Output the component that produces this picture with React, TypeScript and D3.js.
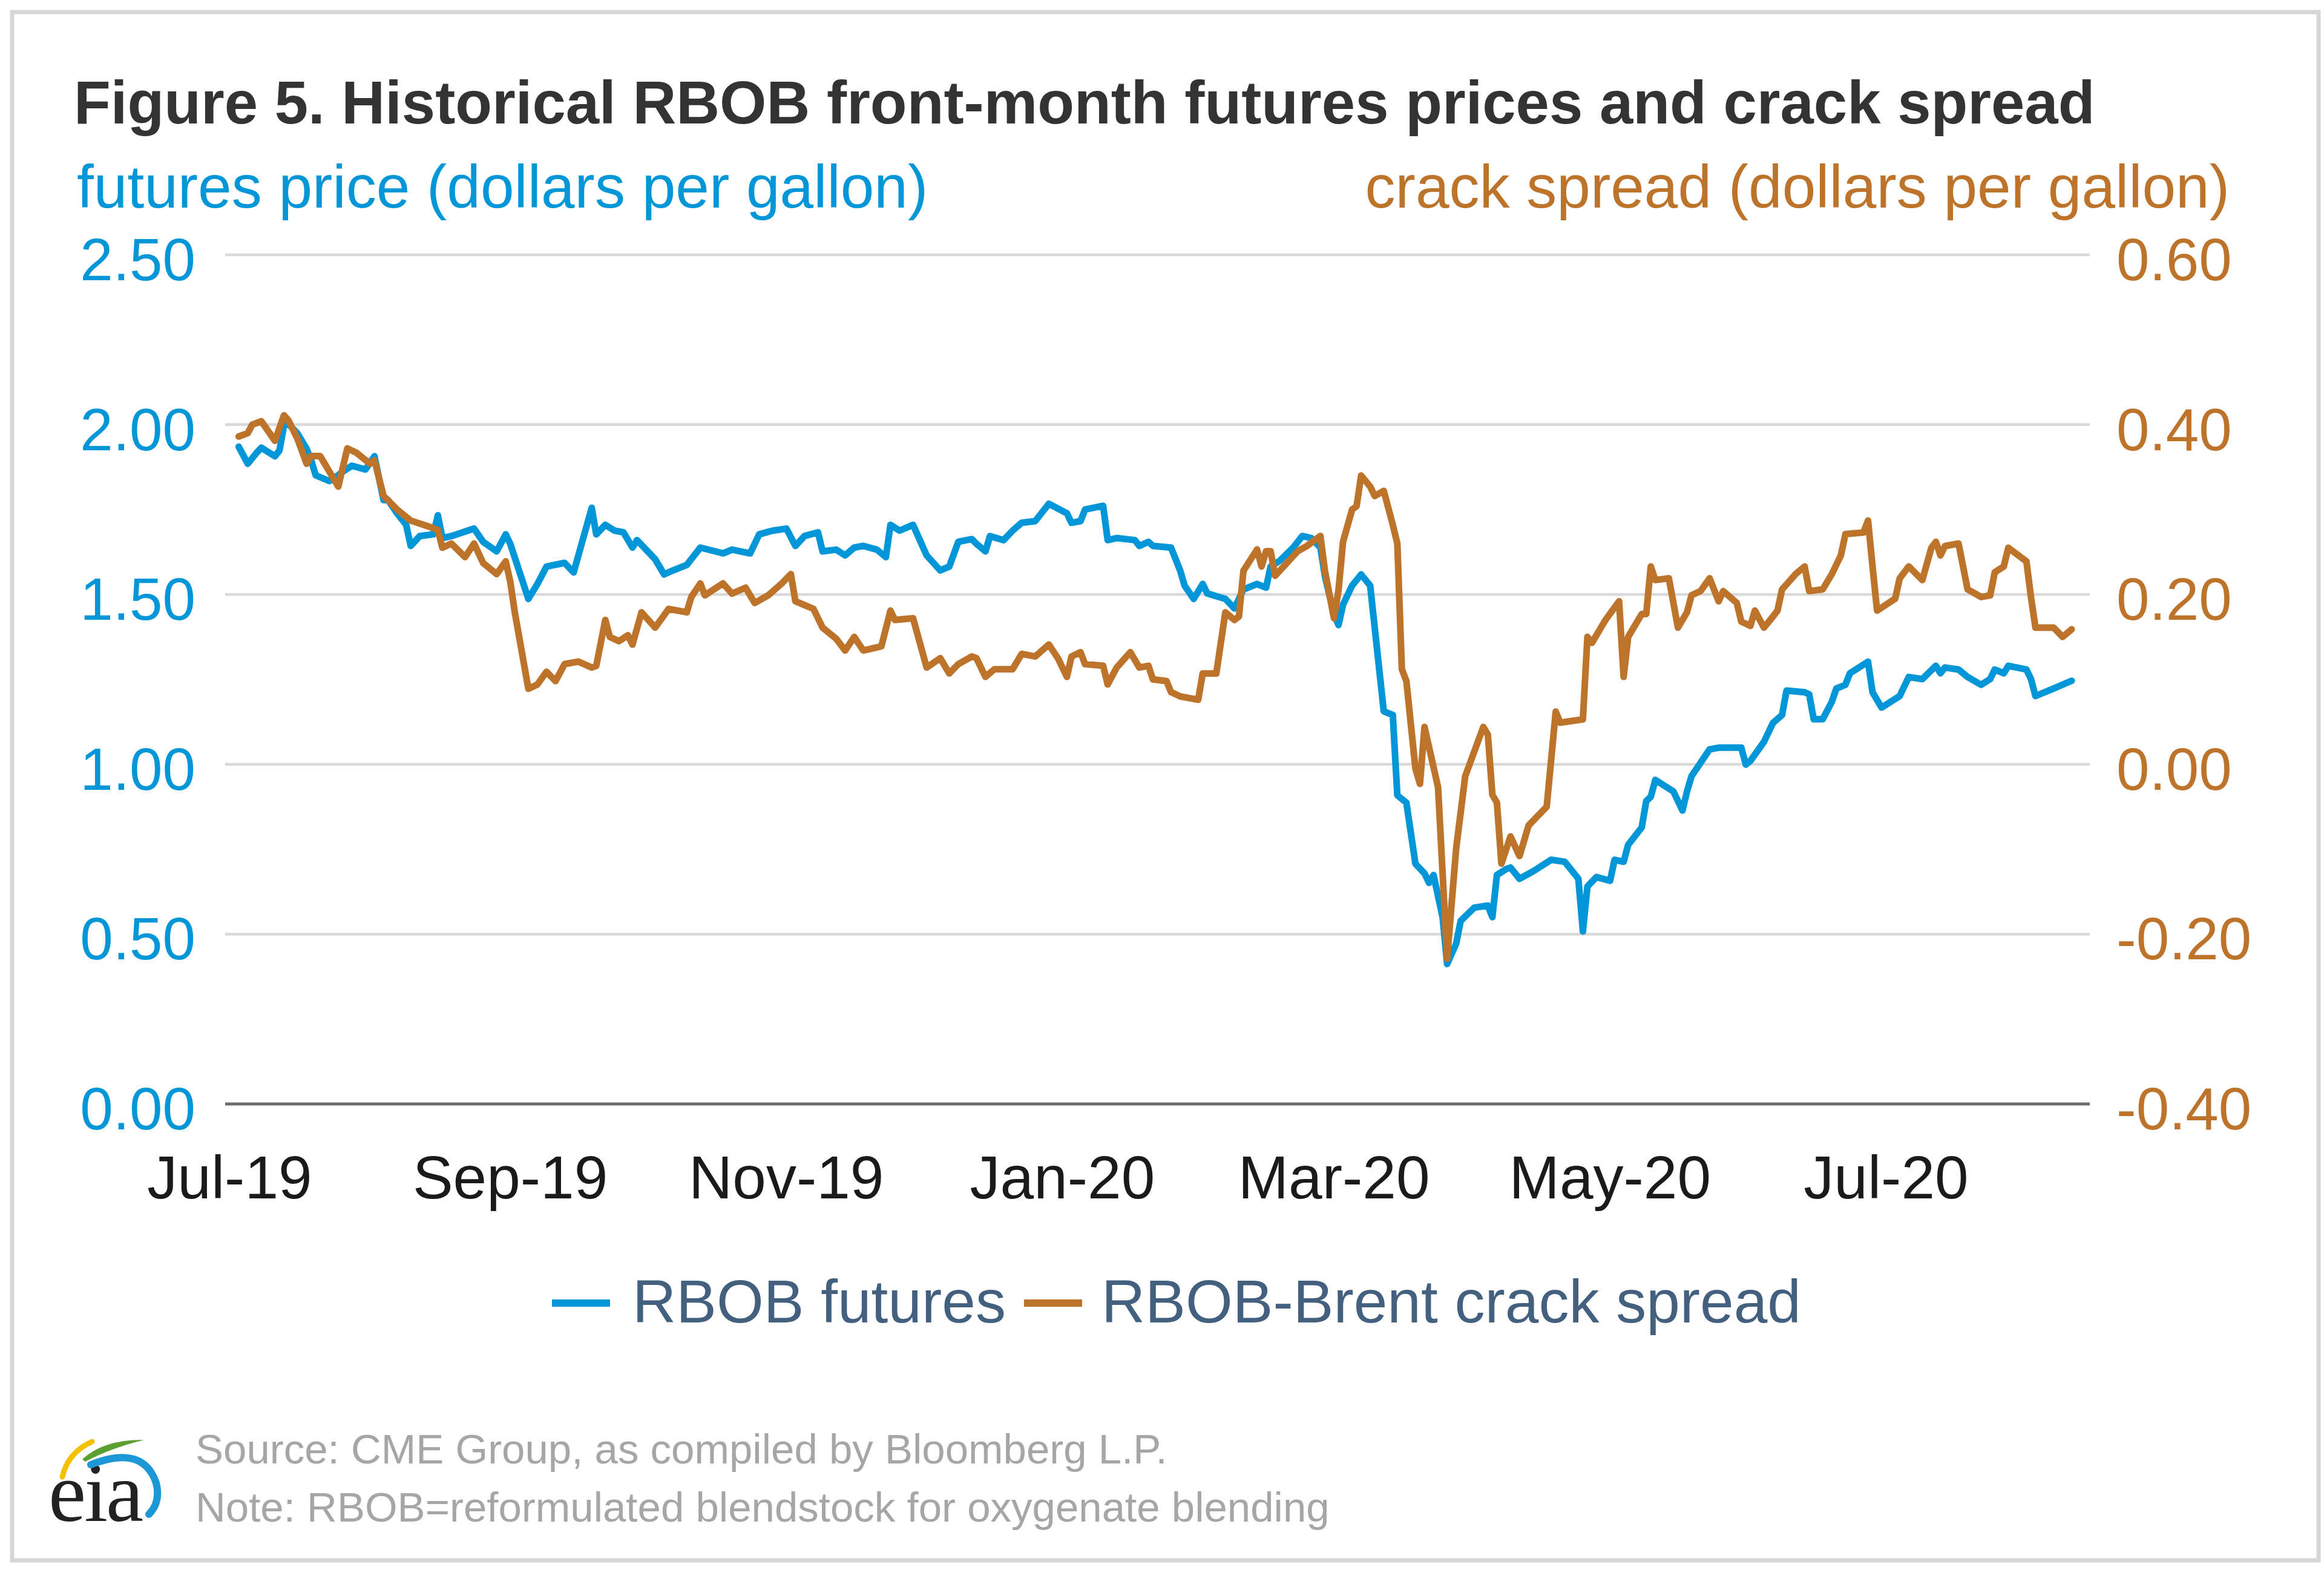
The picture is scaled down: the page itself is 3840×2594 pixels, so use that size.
import React from "react";
import * as d3 from "d3";

const W = 3840;
const H = 2594;

// RBOB front-month futures price, dollars per gallon (left axis)
const rbobFutures: [string, number][] = [
  ["2019-07-03", 1.935], ["2019-07-05", 1.885], ["2019-07-07", 1.918], ["2019-07-08", 1.932],
  ["2019-07-11", 1.907], ["2019-07-12", 1.924], ["2019-07-13", 1.997], ["2019-07-14", 2.002],
  ["2019-07-16", 1.974], ["2019-07-18", 1.929], ["2019-07-19", 1.896], ["2019-07-20", 1.851],
  ["2019-07-23", 1.834], ["2019-07-25", 1.851], ["2019-07-26", 1.862], ["2019-07-28", 1.879],
  ["2019-07-31", 1.868], ["2019-08-02", 1.907], ["2019-08-04", 1.778], ["2019-08-05", 1.778],
  ["2019-08-07", 1.739], ["2019-08-09", 1.705], ["2019-08-10", 1.643], ["2019-08-12", 1.672],
  ["2019-08-15", 1.677], ["2019-08-16", 1.733], ["2019-08-17", 1.666], ["2019-08-19", 1.672],
  ["2019-08-24", 1.694], ["2019-08-26", 1.655], ["2019-08-29", 1.627], ["2019-08-31", 1.677],
  ["2019-09-01", 1.649], ["2019-09-05", 1.487], ["2019-09-07", 1.531], ["2019-09-09", 1.582],
  ["2019-09-13", 1.593], ["2019-09-15", 1.565], ["2019-09-19", 1.755], ["2019-09-20", 1.677],
  ["2019-09-22", 1.705], ["2019-09-24", 1.688], ["2019-09-26", 1.683], ["2019-09-28", 1.638],
  ["2019-09-29", 1.66], ["2019-10-03", 1.604], ["2019-10-05", 1.559], ["2019-10-07", 1.571],
  ["2019-10-10", 1.587], ["2019-10-13", 1.638], ["2019-10-18", 1.621], ["2019-10-20", 1.632],
  ["2019-10-24", 1.621], ["2019-10-26", 1.677], ["2019-10-29", 1.688], ["2019-11-01", 1.694],
  ["2019-11-03", 1.643], ["2019-11-05", 1.672], ["2019-11-08", 1.683], ["2019-11-09", 1.627],
  ["2019-11-12", 1.632], ["2019-11-14", 1.615], ["2019-11-16", 1.638], ["2019-11-18", 1.643],
  ["2019-11-21", 1.632], ["2019-11-23", 1.61], ["2019-11-24", 1.705], ["2019-11-26", 1.688],
  ["2019-11-29", 1.705], ["2019-12-02", 1.615], ["2019-12-05", 1.571], ["2019-12-07", 1.582],
  ["2019-12-09", 1.655], ["2019-12-12", 1.663], ["2019-12-13", 1.649], ["2019-12-15", 1.627],
  ["2019-12-16", 1.672], ["2019-12-19", 1.66], ["2019-12-21", 1.688], ["2019-12-23", 1.711],
  ["2019-12-26", 1.716], ["2019-12-29", 1.767], ["2020-01-02", 1.739], ["2020-01-03", 1.711],
  ["2020-01-05", 1.716], ["2020-01-06", 1.75], ["2020-01-10", 1.761], ["2020-01-11", 1.66],
  ["2020-01-13", 1.666], ["2020-01-17", 1.66], ["2020-01-18", 1.643], ["2020-01-20", 1.655],
  ["2020-01-21", 1.643], ["2020-01-25", 1.638], ["2020-01-27", 1.571], ["2020-01-28", 1.526],
  ["2020-01-30", 1.487], ["2020-02-01", 1.531], ["2020-02-02", 1.503], ["2020-02-06", 1.487],
  ["2020-02-08", 1.459], ["2020-02-10", 1.515], ["2020-02-13", 1.531], ["2020-02-15", 1.52],
  ["2020-02-16", 1.582], ["2020-02-18", 1.599], ["2020-02-21", 1.638], ["2020-02-23", 1.672],
  ["2020-02-25", 1.666], ["2020-02-27", 1.638], ["2020-02-28", 1.554], ["2020-03-01", 1.442],
  ["2020-03-02", 1.41], ["2020-03-03", 1.47], ["2020-03-05", 1.526], ["2020-03-07", 1.559],
  ["2020-03-09", 1.526], ["2020-03-12", 1.156], ["2020-03-14", 1.145], ["2020-03-15", 0.909],
  ["2020-03-17", 0.887], ["2020-03-19", 0.707], ["2020-03-21", 0.679], ["2020-03-22", 0.651],
  ["2020-03-23", 0.674], ["2020-03-25", 0.55], ["2020-03-26", 0.412], ["2020-03-28", 0.472],
  ["2020-03-29", 0.539], ["2020-04-01", 0.578], ["2020-04-04", 0.584], ["2020-04-05", 0.55],
  ["2020-04-06", 0.674], ["2020-04-08", 0.691], ["2020-04-09", 0.696], ["2020-04-11", 0.663],
  ["2020-04-14", 0.685], ["2020-04-18", 0.719], ["2020-04-21", 0.713], ["2020-04-24", 0.663],
  ["2020-04-25", 0.508], ["2020-04-26", 0.64], ["2020-04-28", 0.668], ["2020-05-01", 0.657],
  ["2020-05-02", 0.719], ["2020-05-04", 0.713], ["2020-05-05", 0.763], ["2020-05-08", 0.814],
  ["2020-05-09", 0.892], ["2020-05-10", 0.904], ["2020-05-11", 0.954], ["2020-05-15", 0.92],
  ["2020-05-17", 0.864], ["2020-05-18", 0.92], ["2020-05-19", 0.965], ["2020-05-23", 1.044],
  ["2020-05-25", 1.049], ["2020-05-30", 1.049], ["2020-05-31", 0.999], ["2020-06-01", 1.01],
  ["2020-06-04", 1.066], ["2020-06-06", 1.122], ["2020-06-08", 1.145], ["2020-06-09", 1.217],
  ["2020-06-13", 1.212], ["2020-06-14", 1.206], ["2020-06-15", 1.133], ["2020-06-17", 1.133],
  ["2020-06-19", 1.184], ["2020-06-20", 1.223], ["2020-06-22", 1.234], ["2020-06-23", 1.268],
  ["2020-06-27", 1.302], ["2020-06-28", 1.212], ["2020-06-30", 1.167], ["2020-07-04", 1.201],
  ["2020-07-06", 1.257], ["2020-07-09", 1.251], ["2020-07-12", 1.29], ["2020-07-13", 1.268],
  ["2020-07-14", 1.285], ["2020-07-17", 1.279], ["2020-07-19", 1.257], ["2020-07-22", 1.234],
  ["2020-07-24", 1.251], ["2020-07-25", 1.279], ["2020-07-27", 1.268], ["2020-07-28", 1.29],
  ["2020-08-01", 1.279], ["2020-08-02", 1.251], ["2020-08-03", 1.201], ["2020-08-07", 1.223],
  ["2020-08-11", 1.246],
];

// RBOB-Brent crack spread, dollars per gallon (right axis)
const crackSpread: [string, number][] = [
  ["2019-07-03", 0.386], ["2019-07-05", 0.39], ["2019-07-06", 0.4], ["2019-07-08", 0.404],
  ["2019-07-11", 0.381], ["2019-07-13", 0.411], ["2019-07-14", 0.405], ["2019-07-16", 0.383],
  ["2019-07-18", 0.354], ["2019-07-19", 0.363], ["2019-07-21", 0.363], ["2019-07-23", 0.345],
  ["2019-07-25", 0.327], ["2019-07-27", 0.372], ["2019-07-29", 0.367], ["2019-08-01", 0.354],
  ["2019-08-02", 0.358], ["2019-08-04", 0.316], ["2019-08-07", 0.3], ["2019-08-10", 0.287],
  ["2019-08-14", 0.28], ["2019-08-16", 0.276], ["2019-08-17", 0.255], ["2019-08-19", 0.26],
  ["2019-08-22", 0.244], ["2019-08-24", 0.26], ["2019-08-26", 0.237], ["2019-08-29", 0.224],
  ["2019-08-31", 0.239], ["2019-09-01", 0.215], ["2019-09-02", 0.179], ["2019-09-05", 0.089],
  ["2019-09-07", 0.094], ["2019-09-09", 0.109], ["2019-09-11", 0.098], ["2019-09-13", 0.118],
  ["2019-09-16", 0.121], ["2019-09-19", 0.114], ["2019-09-20", 0.116], ["2019-09-22", 0.17],
  ["2019-09-23", 0.15], ["2019-09-25", 0.145], ["2019-09-27", 0.152], ["2019-09-28", 0.141],
  ["2019-09-30", 0.179], ["2019-10-03", 0.161], ["2019-10-06", 0.183], ["2019-10-10", 0.179],
  ["2019-10-11", 0.197], ["2019-10-13", 0.213], ["2019-10-14", 0.199], ["2019-10-18", 0.213],
  ["2019-10-20", 0.201], ["2019-10-23", 0.208], ["2019-10-25", 0.19], ["2019-10-28", 0.199],
  ["2019-10-31", 0.213], ["2019-11-02", 0.224], ["2019-11-03", 0.192], ["2019-11-07", 0.183],
  ["2019-11-09", 0.161], ["2019-11-12", 0.148], ["2019-11-14", 0.134], ["2019-11-16", 0.15],
  ["2019-11-18", 0.134], ["2019-11-22", 0.139], ["2019-11-24", 0.181], ["2019-11-25", 0.17],
  ["2019-11-29", 0.172], ["2019-12-02", 0.114], ["2019-12-05", 0.125], ["2019-12-07", 0.107],
  ["2019-12-09", 0.118], ["2019-12-12", 0.127], ["2019-12-13", 0.125], ["2019-12-15", 0.103],
  ["2019-12-17", 0.112], ["2019-12-21", 0.112], ["2019-12-23", 0.13], ["2019-12-26", 0.127],
  ["2019-12-29", 0.141], ["2019-12-31", 0.125], ["2020-01-02", 0.103], ["2020-01-03", 0.127],
  ["2020-01-05", 0.132], ["2020-01-06", 0.118], ["2020-01-10", 0.116], ["2020-01-11", 0.094],
  ["2020-01-13", 0.114], ["2020-01-16", 0.132], ["2020-01-18", 0.114], ["2020-01-20", 0.116],
  ["2020-01-21", 0.1], ["2020-01-24", 0.098], ["2020-01-25", 0.085], ["2020-01-27", 0.08],
  ["2020-01-31", 0.076], ["2020-02-01", 0.107], ["2020-02-04", 0.107], ["2020-02-06", 0.179],
  ["2020-02-08", 0.17], ["2020-02-09", 0.174], ["2020-02-10", 0.228], ["2020-02-13", 0.253],
  ["2020-02-14", 0.233], ["2020-02-15", 0.251], ["2020-02-16", 0.251], ["2020-02-17", 0.222],
  ["2020-02-22", 0.251], ["2020-02-24", 0.257], ["2020-02-27", 0.269], ["2020-02-28", 0.228],
  ["2020-03-01", 0.172], ["2020-03-02", 0.205], ["2020-03-03", 0.262], ["2020-03-05", 0.3],
  ["2020-03-06", 0.304], ["2020-03-07", 0.34], ["2020-03-09", 0.327], ["2020-03-10", 0.316],
  ["2020-03-12", 0.322], ["2020-03-14", 0.282], ["2020-03-15", 0.26], ["2020-03-16", 0.112],
  ["2020-03-17", 0.098], ["2020-03-19", -0.005], ["2020-03-20", -0.023], ["2020-03-21", 0.044],
  ["2020-03-24", -0.027], ["2020-03-26", -0.229], ["2020-03-28", -0.099], ["2020-03-30", -0.014],
  ["2020-04-03", 0.044], ["2020-04-04", 0.035], ["2020-04-05", -0.036], ["2020-04-06", -0.045],
  ["2020-04-07", -0.117], ["2020-04-09", -0.085], ["2020-04-11", -0.108], ["2020-04-13", -0.072],
  ["2020-04-17", -0.05], ["2020-04-19", 0.062], ["2020-04-20", 0.049], ["2020-04-25", 0.053],
  ["2020-04-26", 0.15], ["2020-04-27", 0.143], ["2020-04-30", 0.17], ["2020-05-03", 0.192],
  ["2020-05-04", 0.103], ["2020-05-05", 0.15], ["2020-05-08", 0.177], ["2020-05-09", 0.177],
  ["2020-05-10", 0.233], ["2020-05-11", 0.217], ["2020-05-14", 0.219], ["2020-05-16", 0.161],
  ["2020-05-18", 0.179], ["2020-05-19", 0.199], ["2020-05-21", 0.204], ["2020-05-23", 0.219],
  ["2020-05-25", 0.192], ["2020-05-26", 0.204], ["2020-05-29", 0.19], ["2020-05-30", 0.168],
  ["2020-06-01", 0.163], ["2020-06-02", 0.181], ["2020-06-04", 0.161], ["2020-06-06", 0.174],
  ["2020-06-07", 0.181], ["2020-06-08", 0.206], ["2020-06-11", 0.224], ["2020-06-13", 0.233],
  ["2020-06-14", 0.204], ["2020-06-17", 0.206], ["2020-06-19", 0.224], ["2020-06-21", 0.246],
  ["2020-06-22", 0.271], ["2020-06-26", 0.273], ["2020-06-27", 0.287], ["2020-06-28", 0.233],
  ["2020-06-29", 0.181], ["2020-07-03", 0.195], ["2020-07-04", 0.219], ["2020-07-06", 0.233],
  ["2020-07-09", 0.217], ["2020-07-11", 0.255], ["2020-07-12", 0.262], ["2020-07-13", 0.246],
  ["2020-07-14", 0.257], ["2020-07-17", 0.26], ["2020-07-18", 0.233], ["2020-07-19", 0.206],
  ["2020-07-22", 0.197], ["2020-07-24", 0.199], ["2020-07-25", 0.226], ["2020-07-27", 0.233],
  ["2020-07-28", 0.255], ["2020-08-01", 0.239], ["2020-08-02", 0.197], ["2020-08-03", 0.161],
  ["2020-08-07", 0.161], ["2020-08-09", 0.15], ["2020-08-11", 0.159],
];

const xTickDates = ["2019-07-01", "2019-09-01", "2019-11-01", "2020-01-01", "2020-03-01", "2020-05-01", "2020-07-01"];
const xDomainDates = ["2019-06-30", "2020-08-15"];
const leftTicks = [0, 0.5, 1, 1.5, 2, 2.5];
const rightTicks = [-0.4, -0.2, 0, 0.2, 0.4, 0.6];

const titleText = "Figure 5. Historical RBOB front-month futures prices and crack spread";
const leftAxisTitle = "futures price (dollars per gallon)";
const rightAxisTitle = "crack spread (dollars per gallon)";
const legendLabels = ["RBOB futures", "RBOB-Brent crack spread"];
const sourceText = "Source: CME Group, as compiled by Bloomberg L.P.";
const noteText = "Note: RBOB=reformulated blendstock for oxygenate blending";

const BLUE = "#0096d7";
const ORANGE = "#bd732a";
const SANS = "'Liberation Sans', Arial, Helvetica, sans-serif";

export default function App() {
  const parse = d3.utcParse("%Y-%m-%d");
  const plotLeft = 372;
  const plotRight = 3453;
  const plotTop = 421;
  const plotBottom = 1824;

  const x = d3.scaleUtc().domain(xDomainDates.map((d) => parse(d) as Date)).range([plotLeft, plotRight]);
  const yL = d3.scaleLinear().domain([0, 2.5]).range([plotBottom, plotTop]);
  const yR = d3.scaleLinear().domain([-0.4, 0.6]).range([plotBottom, plotTop]);
  const fmtX = d3.utcFormat("%b-%y");
  const fmtY = (v: number) => d3.format(".2f")(v).replace("\u2212", "-");

  const lineL = d3
    .line<[string, number]>()
    .x((d) => x(parse(d[0]) as Date))
    .y((d) => yL(d[1]));
  const lineR = d3
    .line<[string, number]>()
    .x((d) => x(parse(d[0]) as Date))
    .y((d) => yR(d[1]));

  const legendItems = [
    { label: legendLabels[0], color: BLUE, sx: 912, tx: 1045 },
    { label: legendLabels[1], color: ORANGE, sx: 1692, tx: 1820 },
  ];

  return (
    <svg
      width={W}
      height={H}
      viewBox={`0 0 ${W} ${H}`}
      style={{ position: "absolute", left: 0, top: 0, display: "block", background: "#fff" }}
      fontFamily={SANS}
    >
      <rect x={0} y={0} width={W} height={H} fill="#fff" />
      <rect x={20} y={20} width={3811} height={2558} fill="#fff" stroke="#d6d6d6" strokeWidth={7} />

      {/* title */}
      <text x={122} y={204} fontSize={99.5} fontWeight="bold" fill="#333333">
        {titleText}
      </text>

      {/* axis titles */}
      <text x={127} y={343} fontSize={100} fill={BLUE}>
        {leftAxisTitle}
      </text>
      <text x={3684} y={343} fontSize={100} fill={ORANGE} textAnchor="end">
        {rightAxisTitle}
      </text>

      {/* gridlines */}
      {leftTicks.map((t) =>
        t === 0 ? null : (
          <line key={"g" + t} x1={plotLeft} x2={plotRight} y1={yL(t)} y2={yL(t)} stroke="#d9d9d9" strokeWidth={4.5} />
        )
      )}
      <line x1={plotLeft} x2={plotRight} y1={yL(0)} y2={yL(0)} stroke="#6e6e6e" strokeWidth={5} />

      {/* left tick labels */}
      {leftTicks.map((t) => (
        <text key={"l" + t} x={323} y={yL(t) + 42} fontSize={98} fill={BLUE} textAnchor="end">
          {fmtY(t)}
        </text>
      ))}
      {/* right tick labels */}
      {rightTicks.map((t) => (
        <text key={"r" + t} x={3497} y={yR(t) + 42} fontSize={98} fill={ORANGE} textAnchor="start">
          {fmtY(t)}
        </text>
      ))}

      {/* x tick labels */}
      {xTickDates.map((d) => (
        <text key={d} x={x(parse(d) as Date)} y={1980} fontSize={100} fill="#1a1a1a" textAnchor="middle">
          {fmtX(parse(d) as Date)}
        </text>
      ))}

      {/* series */}
      <path d={lineL(rbobFutures) || ""} fill="none" stroke={BLUE} strokeWidth={11} strokeLinejoin="round" strokeLinecap="round" />
      <path d={lineR(crackSpread) || ""} fill="none" stroke={ORANGE} strokeWidth={11} strokeLinejoin="round" strokeLinecap="round" />

      {/* legend */}
      {legendItems.map((it) => (
        <g key={it.label}>
          <line x1={it.sx} x2={it.sx + 96} y1={2153} y2={2153} stroke={it.color} strokeWidth={12} />
          <text x={it.tx} y={2185} fontSize={100} fill="#44607f">
            {it.label}
          </text>
        </g>
      ))}

      {/* eia logo */}
      <g>
        <text x={80} y={2513} fontSize={140} fontFamily="'Liberation Serif', 'DejaVu Serif', serif" fill="#222" letterSpacing={-3}>
          eia
        </text>
        <path d="M 103 2440 Q 112 2400 152 2382" fill="none" stroke="#f2c100" strokeWidth={9} strokeLinecap="round" />
        <path d="M 136 2411 Q 172 2378 238 2379 Q 182 2393 141 2415 Z" fill="#5b9e32" />
        <path d="M 150 2420 Q 236 2386 258 2450 Q 266 2482 246 2502" fill="none" stroke="#1b98d5" strokeWidth={12} strokeLinecap="round" />
      </g>

      {/* footer */}
      <text x={323} y={2418} fontSize={69} fill="#a6a6a6">
        {sourceText}
      </text>
      <text x={323} y={2514} fontSize={69} fill="#a6a6a6">
        {noteText}
      </text>
    </svg>
  );
}
